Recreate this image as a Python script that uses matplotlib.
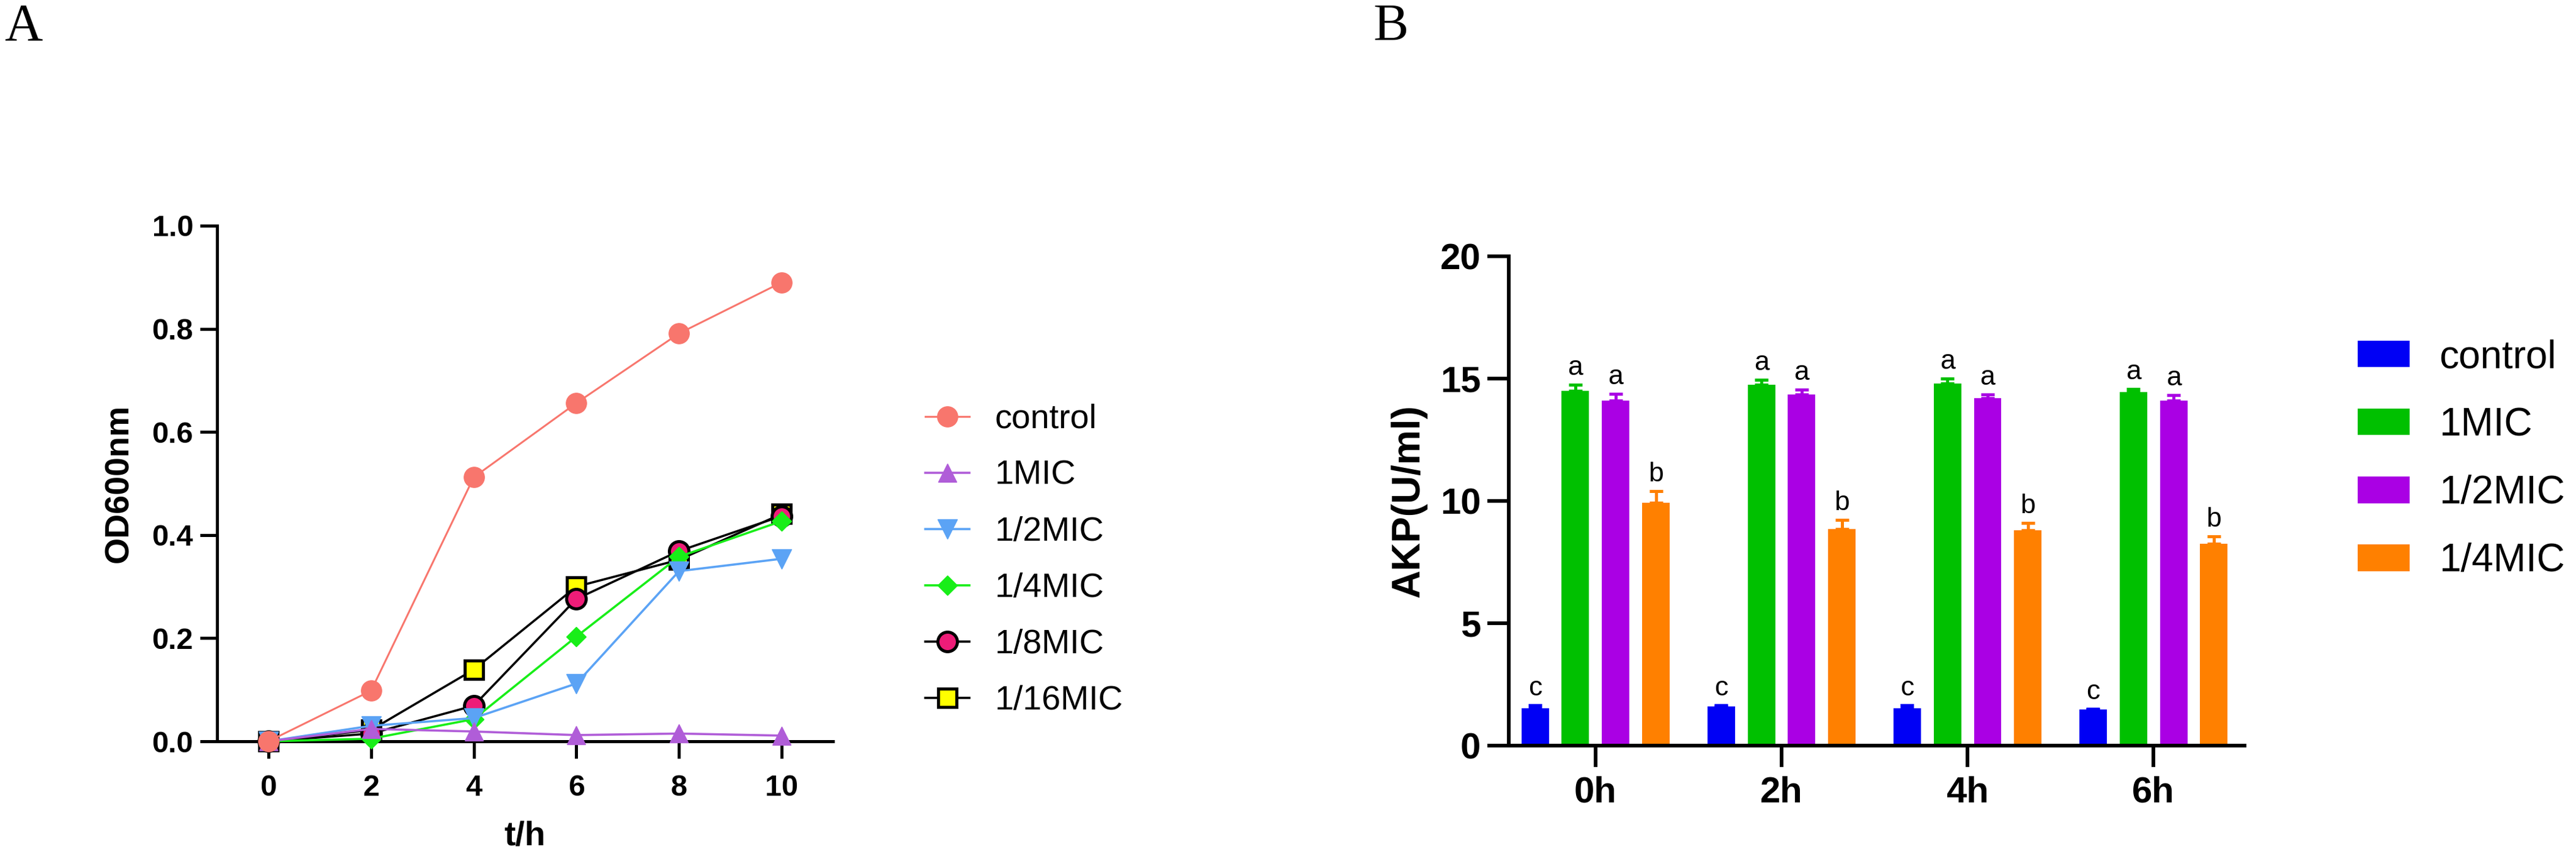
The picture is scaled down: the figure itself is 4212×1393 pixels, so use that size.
import matplotlib
matplotlib.use('Agg')
import matplotlib.pyplot as plt
import numpy as np

plt.rcParams['font.family'] = ['Liberation Sans', 'DejaVu Sans']

# panel A: growth curves
hours = [0, 2, 4, 6, 8, 10]
growth_labels = ['control', '1MIC', '1/2MIC', '1/4MIC', '1/8MIC', '1/16MIC']
od_control = [0.0, 0.098, 0.512, 0.656, 0.791, 0.890]
od_1mic = [0.0, 0.024, 0.019, 0.012, 0.015, 0.011]
od_half = [0.0, 0.030, 0.045, 0.112, 0.330, 0.354]
od_quarter = [0.0, 0.005, 0.043, 0.203, 0.358, 0.427]
od_eighth = [0.0, 0.015, 0.069, 0.276, 0.369, 0.437]
od_sixteenth = [0.0, 0.022, 0.139, 0.300, 0.352, 0.441]

# panel B: AKP activity
time_labels = ['0h', '2h', '4h', '6h']
akp_labels = ['control', '1MIC', '1/2MIC', '1/4MIC']
akp_control = [1.52, 1.60, 1.52, 1.47]
akp_control_err = [0.12, 0.04, 0.12, 0.02]
akp_1mic = [14.51, 14.74, 14.81, 14.45]
akp_1mic_err = [0.25, 0.20, 0.20, 0.12]
akp_half = [14.11, 14.34, 14.20, 14.10]
akp_half_err = [0.27, 0.22, 0.14, 0.22]
akp_quarter = [9.93, 8.85, 8.80, 8.24]
akp_quarter_err = [0.48, 0.38, 0.31, 0.32]
akp_letters = ['c', 'a', 'a', 'b']

W, H = 4212, 1393
fig = plt.figure(figsize=(W / 100, H / 100), dpi=100)

# ---------- A ----------
axA = fig.add_axes([355 / W, 1 - 1212 / H, (1362 - 355) / W, (1212 - 369) / H])
styles = [
    dict(color='#F8766D', marker='o', ms=24, mfc='#F8766D', mec='#F8766D', lw=2.2),
    dict(color='#B05DD8', marker='^', ms=21, mfc='#B05DD8', mec='#B05DD8', lw=2.6),
    dict(color='#5BA3F5', marker='v', ms=23, mfc='#5BA3F5', mec='#5BA3F5', lw=2.6),
    dict(color='#18EE18', marker='D', ms=16, mfc='#18EE18', mec='#18EE18', lw=2.6),
    dict(color='black', marker='o', ms=23, mfc='#EE1C78', mec='black', mew=3.6, lw=2.6),
    dict(color='black', marker='s', ms=22, mfc='#FFFF00', mec='black', mew=3.6, lw=2.6),
]
series = [od_control, od_1mic, od_half, od_quarter, od_eighth, od_sixteenth]
handles = []
for i, (vals, st, lab) in enumerate(zip(series, styles, growth_labels)):
    ln, = axA.plot(hours, vals, label=lab, clip_on=False, zorder=10 - i, **st)
    handles.append(ln)

axA.set_xlim(-1, 11)
axA.set_ylim(0, 1.0)
axA.set_xticks(hours)
axA.set_yticks(np.arange(0, 1.01, 0.2))
axA.set_yticklabels([f'{v:.1f}' for v in np.arange(0, 1.01, 0.2)])
for s in ['top', 'right']:
    axA.spines[s].set_visible(False)
for s in ['left', 'bottom']:
    axA.spines[s].set_linewidth(3.6)
axA.tick_params(length=20, width=3.6, labelsize=35)
axA.tick_params(axis='y', pad=8)
axA.tick_params(axis='x', pad=19)
for t in axA.get_xticklabels() + axA.get_yticklabels():
    t.set_fontweight('bold')
axA.set_ylabel('OD600nm', fontsize=40, fontweight='bold', labelpad=20)
axA.set_xlabel('t/h', fontsize=40, fontweight='bold', labelpad=22)

fig.legend(handles=handles, loc='upper left', bbox_to_anchor=(1513 / W, 1 - 660 / H),
           frameon=False, fontsize=40, handlelength=1.3, handletextpad=0.75,
           labelspacing=0.72, borderpad=0, borderaxespad=0)

# ---------- B ----------
axB = fig.add_axes([2467 / W, 1 - 1219 / H, (3670 - 2467) / W, (1219 - 419) / H])
bar_colors = ['#0000F5', '#00C000', '#AA00E4', '#FF8000']
bar_vals = [akp_control, akp_1mic, akp_half, akp_quarter]
bar_errs = [akp_control_err, akp_1mic_err, akp_half_err, akp_quarter_err]
x = np.arange(len(time_labels))
step = 0.217
width = 0.148
bar_handles = []
for j, (vals, errs, col, lab) in enumerate(zip(bar_vals, bar_errs, bar_colors, akp_labels)):
    xs = x + (j - 1.5) * step
    b = axB.bar(xs, vals, width=width, color=col, label=lab, zorder=2)
    bar_handles.append(b)
    axB.errorbar(xs, vals, yerr=[np.zeros(len(vals)), errs], fmt='none', ecolor=col,
                 elinewidth=3.6, capsize=8, capthick=3.6, zorder=3)
    for xi, v, e in zip(xs, vals, errs):
        axB.annotate(akp_letters[j], (xi, v + e), xytext=(0, 5), textcoords='offset points',
                     ha='center', va='bottom', fontsize=32)

axB.set_xlim(-0.467, 3.49)
axB.set_ylim(0, 20)
axB.set_xticks(x)
axB.set_xticklabels(time_labels)
axB.set_yticks([0, 5, 10, 15, 20])
for s in ['top', 'right']:
    axB.spines[s].set_visible(False)
for s in ['left', 'bottom']:
    axB.spines[s].set_linewidth(4.3)
axB.tick_params(length=25, width=4.3, labelsize=43)
axB.tick_params(axis='y', pad=8)
axB.tick_params(axis='x', pad=11)
for t in axB.get_xticklabels() + axB.get_yticklabels():
    t.set_fontweight('bold')
axB.set_ylabel('AKP(U/ml)', fontsize=46, fontweight='bold', labelpad=15)

fig.legend(handles=bar_handles, loc='upper left', bbox_to_anchor=(3855 / W, 1 - 554 / H),
           frameon=False, fontsize=46, handlelength=1.33, handleheight=0.67,
           handletextpad=0.75, labelspacing=0.8, borderpad=0, borderaxespad=0)

# panel letters
fig.text(7 / W, 1 - 5 / H, 'A', fontsize=62, family=['Liberation Serif', 'DejaVu Serif'],
         ha='left', va='top')
fig.text(2245 / W, 1 - 5 / H, 'B', fontsize=62, family=['Liberation Serif', 'DejaVu Serif'],
         ha='left', va='top')

fig.savefig('out.png', dpi=100)
